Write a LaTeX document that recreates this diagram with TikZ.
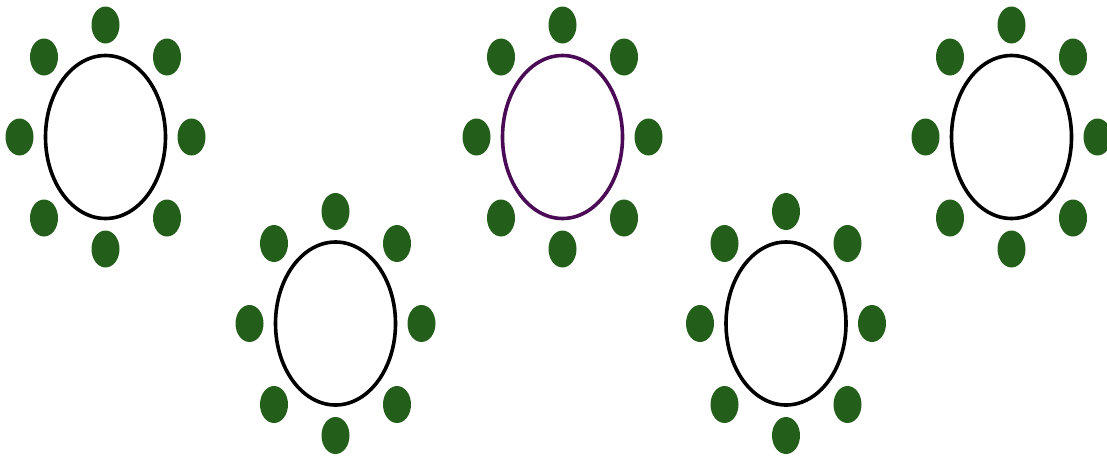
\documentclass[tikz,border=0pt]{standalone}
\usetikzlibrary{shapes.geometric}
\definecolor{chairgreen}{HTML}{235F1A}
\definecolor{tablepurple}{HTML}{4A0A55}
\tikzset{
  tablebox/.style={ellipse, draw=black, line width=3.6pt, minimum width=120pt, minimum height=163pt, inner sep=0pt},
  chair/.style={ellipse, fill=chairgreen, minimum width=28pt, minimum height=37pt, inner sep=0pt}
}
\begin{document}
\begin{tikzpicture}[x=1pt,y=-1pt]
\useasboundingbox (0,0) rectangle (1107,456);
\foreach \n/\cx/\cy/\col in {a/105.5/137/black, b/335.5/323.5/black, c/562.5/137/tablepurple, d/786/323.5/black, e/1011.5/137/black}{
  \node[tablebox, draw=\col] (t\n) at (\cx,\cy) {};
  \node[chair] (\n1) at (\cx,\cy-112) {};
  \node[chair] (\n2) at (\cx+61.5,\cy-80) {};
  \node[chair] (\n3) at (\cx+86,\cy) {};
  \node[chair] (\n4) at (\cx+61.5,\cy+81) {};
  \node[chair] (\n5) at (\cx,\cy+112) {};
  \node[chair] (\n6) at (\cx-61.5,\cy+81) {};
  \node[chair] (\n7) at (\cx-86,\cy) {};
  \node[chair] (\n8) at (\cx-61.5,\cy-80) {};
}
\end{tikzpicture}
\end{document}
